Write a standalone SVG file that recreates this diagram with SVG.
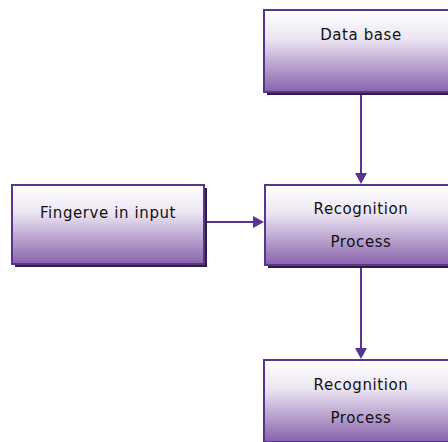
<svg xmlns="http://www.w3.org/2000/svg" width="448" height="442" viewBox="0 0 448 442">
<defs>
<linearGradient id="g" x1="0" y1="0" x2="0" y2="1">
<stop offset="0" stop-color="#ffffff"/>
<stop offset="0.35" stop-color="#ece5f3"/>
<stop offset="1" stop-color="#8763ab"/>
</linearGradient>
<style>
.box{fill:url(#g);stroke:#5a3590;stroke-width:2}
.sh{fill:#2e1f3f}
.t{font-family:"DejaVu Sans",sans-serif;font-size:15px;fill:#111;text-anchor:middle;letter-spacing:0.6px}
.c{stroke:#5a3590;stroke-width:2;fill:none}
.ah{fill:#5a3590}
</style>
</defs>
<g id="connectors">
<line class="c" x1="361" y1="92" x2="361" y2="174"/>
<polygon class="ah" points="355,173 367,173 361,184"/>
<line class="c" x1="205" y1="222" x2="254" y2="222"/>
<polygon class="ah" points="253,216 253,228 264,222"/>
<line class="c" x1="361" y1="266" x2="361" y2="349"/>
<polygon class="ah" points="355,348 367,348 361,359"/>
</g>
<g id="database">
<rect class="sh" x="267" y="13" width="194" height="82"/>
<rect class="box" x="264" y="10" width="194" height="82"/>
<text class="t" x="361" y="40">Data base</text>
</g>
<g id="fingervein">
<rect class="sh" x="15" y="188" width="192" height="79"/>
<rect class="box" x="12" y="185" width="192" height="79"/>
<text class="t" x="108" y="218">Fingerve in input</text>
</g>
<g id="recognition1">
<rect class="sh" x="268" y="188" width="194" height="80"/>
<rect class="box" x="265" y="185" width="194" height="80"/>
<text class="t" x="361" y="214">Recognition</text>
<text class="t" x="361" y="247">Process</text>
</g>
<g id="recognition2">
<rect class="sh" x="267" y="363" width="194" height="82"/>
<rect class="box" x="264" y="360" width="194" height="82"/>
<text class="t" x="361" y="390">Recognition</text>
<text class="t" x="361" y="423">Process</text>
</g>
</svg>
